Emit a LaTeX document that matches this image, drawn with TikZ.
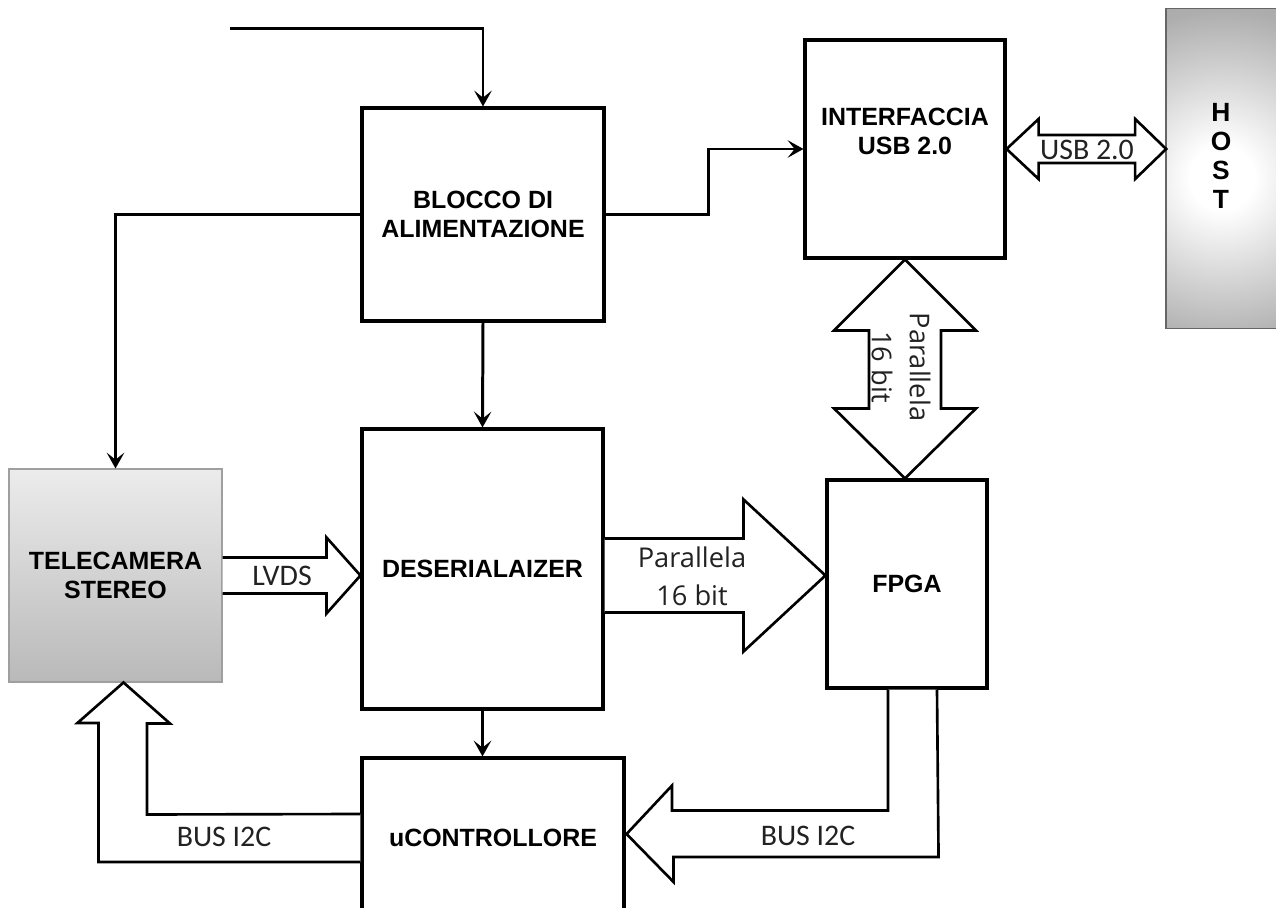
\documentclass[tikz,border=0pt]{standalone}
\usepackage{fontspec}
\setmainfont{Liberation Sans}
\newfontfamily\calfont{Carlito}
\newfontfamily\osfont{Open Sans}
\usetikzlibrary{arrows.meta,calc}
\definecolor{lblgray}{HTML}{222222}
\pgfdeclareradialshading{hostshade}{\pgfpoint{0bp}{0bp}}{color(0bp)=(white); color(4bp)=(white); color(21bp)=(gray!64); color(25bp)=(gray!68); color(50bp)=(gray!68)}
\begin{document}
\begin{tikzpicture}[x=0.02cm,y=-0.02cm,
  box/.style={draw, line width=1.8pt, rectangle, inner sep=0pt, align=center,
    font=\bfseries\fontsize{14.2}{16.5}\selectfont},
  conn/.style={draw, line width=1.7pt, -{Stealth[length=9pt,width=10pt,inset=4pt]}},
  barrow/.style={draw, line width=1.5pt, fill=white, line join=miter},
  lbl/.style={inner sep=0pt, text=lblgray, font=\calfont\fontsize{17}{20}\selectfont},
  plbl/.style={inner sep=0pt, text=lblgray, align=center, font=\osfont\fontsize{15.5}{21.6}\selectfont},
  btext/.style={inner sep=0pt, align=center, font=\bfseries\fontsize{14.2}{16.5}\selectfont}]
\useasboundingbox (0,0) rectangle (1276,908);

% blocks
\node[box, minimum width=4.84cm, minimum height=4.26cm] (blocco) at (483,214.5) {BLOCCO DI\\ALIMENTAZIONE};
\node[box, minimum width=4.0cm, minimum height=4.36cm] (interf) at (905,149) {};
\node[btext] (interfT) at (905,131) {INTERFACCIA\\USB 2.0};
\node[box, draw=gray!75, line width=0.6pt, top color=gray!15, bottom color=gray!55,
  minimum width=4.26cm, minimum height=4.26cm] (teleca) at (115.5,575.5) {TELECAMERA\\STEREO};
\node[box, minimum width=4.82cm, minimum height=5.6cm] (deser) at (482.5,569) {DESERIALAIZER};
\node[box, minimum width=3.2cm, minimum height=4.16cm] (fpga) at (907,584) {FPGA};
\node[box, minimum width=5.24cm, minimum height=3.2cm] (uctrl) at (493,838) {uCONTROLLORE};

% host with radial shading
\node[rectangle, inner sep=0pt, minimum width=2.22cm, minimum height=6.38cm] (host) at (1222,168.5) {};
\begin{scope}
  \clip (host.south west) rectangle (host.north east);
  \shade[shading=hostshade] (1222,178) circle (200);
\end{scope}
\draw[draw=gray!80!black, line width=0.8pt] (host.south west) rectangle (host.north east);
\node[btext, font=\bfseries\fontsize{15}{16.6}\selectfont] (hostT) at (1221,156) {H\\O\\S\\T};

% thin connectors
\coordinate (pin) at (230,29);
\draw[conn] (pin) -| (blocco.north);
\draw[conn] (blocco.west) -| (teleca.north);
\draw[conn] (blocco.east) -- ++(103,0) |- (interf.west);
\draw[conn] (blocco.south) -- (deser.north);
\draw[conn] (deser.south) -- (deser.south |- uctrl.north);

% LVDS block arrow
\draw[barrow] ($(teleca.east)+(0,-18)$) -- ++(104,0) -- ++(0,-20) -- (deser.west |- teleca.east)
  -- ($(teleca.east)+(104,38)$) -- ++(0,-20) -- ++(-104,0);
\node[lbl] (lvdsT) at (282,576) {LVDS};

% Parallela horizontal
\draw[barrow] ($(deser.east |- teleca.east)+(0,-37)$) -- ++(139,0) -- ++(0,-39) -- (fpga.west |- teleca.east)
  -- ($(deser.east |- teleca.east)+(139,76)$) -- ++(0,-39) -- ++(-139,0);
\node[plbl] (parH) at (692,576) {Parallela\\16 bit};

% Parallela vertical (double)
\draw[barrow] (interf.south) -- ($(interf.south)+(71,71)$) -- ++(-35,0)
  -- ($(interf.south |- fpga.north)+(36,-70)$) -- ++(35,0) -- (interf.south |- fpga.north)
  -- ++(-71,-70) -- ++(35,0) -- ($(interf.south)+(-36,71)$) -- ++(-35,0) -- cycle;
\node[plbl, rotate=-90] (parV) at (901,367) {Parallela\\16 bit};

% USB double arrow
\draw[barrow] (interf.east) -- ++(32,-30) -- ++(0,16) -- ($(host.west |- interf.east)+(-31,-14)$)
  -- ++(0,-16) -- (host.west |- interf.east) -- ++(-31,30) -- ++(0,-16)
  -- ($(interf.east)+(32,14)$) -- ++(0,16) -- cycle;
\node[lbl] (usbT) at (1087,150) {USB 2.0};

% BUS I2C left (uController -> telecamera)
\coordinate (t1) at ($(teleca.south)+(8,0)$);
\draw[barrow] ($(uctrl.west)+(0,24)$) -- ++(-262,0) -- ++(0,-139) -- ++(-21,0) -- (t1)
  -- ++(46.5,41) -- ++(-23,0) -- ++(0,91) -- ($(uctrl.west)+(0,-24)$);
\node[lbl] (busL) at (224,837) {BUS I2C};

% BUS I2C right (FPGA -> uController)
\draw[barrow] ($(fpga.south)+(-19,0)$) -- ++(0,121) -- ++(-216,0) -- ++(0,-25)
  -- ($(uctrl.east)+(1,-4)$) -- ++(47,48) -- ++(0,-25) -- ++(265,0) -- ($(fpga.south)+(30,0)$);
\node[lbl] (busR) at (808,836) {BUS I2C};
\end{tikzpicture}
\end{document}
